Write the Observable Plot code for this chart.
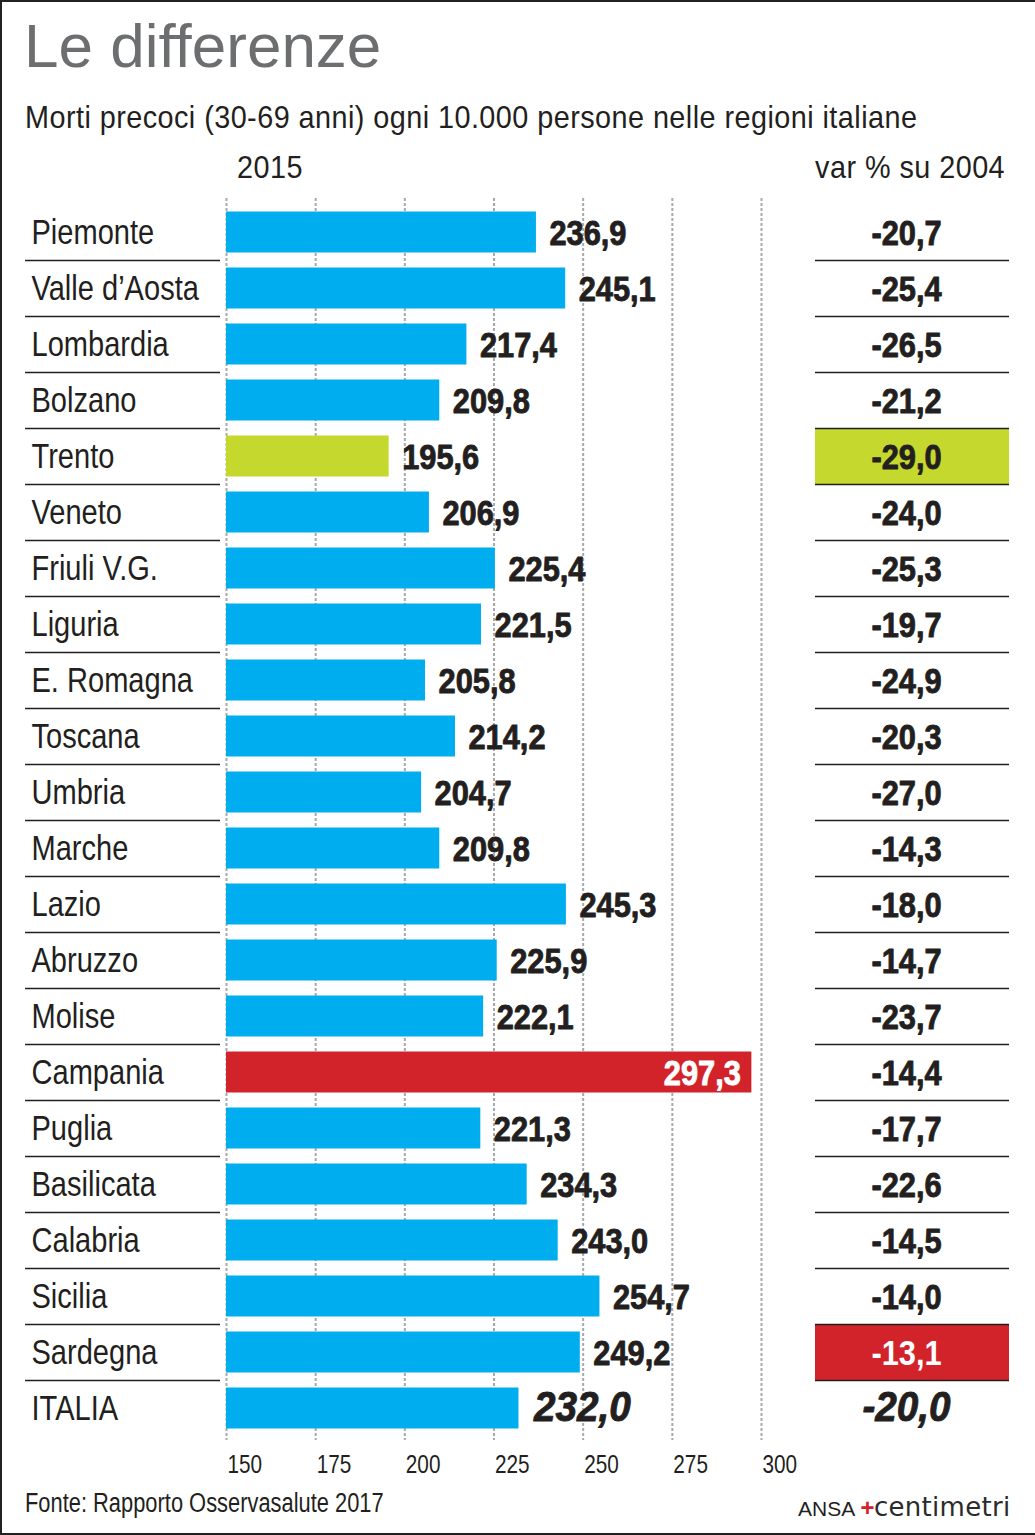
<!DOCTYPE html>
<html><head><meta charset="utf-8">
<script src="https://cdn.jsdelivr.net/npm/d3@7"></script>
<script src="https://cdn.jsdelivr.net/npm/@observablehq/plot@0.6"></script>
<style>
body{margin:0;background:#fff;}
#wrap{position:relative;width:1035px;height:1535px;background:#fff;overflow:hidden;}
.sans{font-family:"Liberation Sans",Arial,Helvetica,sans-serif;}
.abs{position:absolute;white-space:nowrap;line-height:1;}
.hdr{font-size:32px;letter-spacing:0.5px;color:#231f20;transform:scaleX(0.9);}
#frame{position:absolute;left:0;top:0;width:1035px;height:1535px;box-sizing:border-box;border-left:2px solid #222;border-top:2px solid #222;border-bottom:2px solid #222;pointer-events:none;}
#plotA{position:absolute;left:0;top:190px;}
#plotB{position:absolute;left:800px;top:190px;}
</style></head>
<body><div id="wrap">
<div class="abs sans" style="left:24px;top:15px;font-size:62px;color:#6d6e70;">Le differenze</div>
<div class="abs sans hdr" style="left:25px;top:100.9px;transform-origin:left center;">Morti precoci (30-69 anni) ogni 10.000 persone nelle regioni italiane</div>
<div class="abs sans hdr" style="left:237px;top:150.9px;transform-origin:left center;">2015</div>
<div class="abs sans hdr" style="right:29.5px;top:150.9px;transform-origin:right center;">var % su 2004</div>
<div id="plotA"></div>
<div id="plotB"></div>
<div class="abs sans" style="left:25px;top:1490px;font-size:27px;color:#231f20;transform:scaleX(0.81);transform-origin:left center;">Fonte: Rapporto Osservasalute 2017</div>
<div class="abs sans" style="left:798px;top:1494px;font-size:21px;color:#231f20;">ANSA <span style="color:#d2232a;font-weight:bold;font-style:italic;font-size:24px;">+</span><span style="font-family:'DejaVu Sans',sans-serif;font-size:26px;letter-spacing:0.3px;color:#2b2b2b;">centimetri</span></div>
<div id="frame"></div>
</div>
<script>
const regions = ["Piemonte","Valle d\u2019Aosta","Lombardia","Bolzano","Trento","Veneto","Friuli V.G.","Liguria","E. Romagna","Toscana","Umbria","Marche","Lazio","Abruzzo","Molise","Campania","Puglia","Basilicata","Calabria","Sicilia","Sardegna","ITALIA"];
const values2015 = [236.9,245.1,217.4,209.8,195.6,206.9,225.4,221.5,205.8,214.2,204.7,209.8,245.3,225.9,222.1,297.3,221.3,234.3,243.0,254.7,249.2,232.0];
const varPct = [-20.7,-25.4,-26.5,-21.2,-29.0,-24.0,-25.3,-19.7,-24.9,-20.3,-27.0,-14.3,-18.0,-14.7,-23.7,-14.4,-17.7,-22.6,-14.5,-14.0,-13.1,-20.0];
const tickValues = [150,175,200,225,250,275,300];
const totalLabel = "ITALIA";

const BLUE = "#00aeef", GREEN = "#c4d82e", RED = "#d2232a", INK = "#231f20";
const font = '"Liberation Sans",Arial,Helvetica,sans-serif';
const fmt = v => v.toFixed(1).replace(".", ",");

const rows = regions.map((r, i) => ({region: r, value: values2015[i], pct: varPct[i]}));
const regional = rows.filter(d => d.region !== totalLabel);
const vMin = d3.min(regional, d => d.value), vMax = d3.max(regional, d => d.value);
const pMin = d3.min(regional, d => d.pct), pMax = d3.max(regional, d => d.pct);
rows.forEach(d => {
  d.valCat = d.region === totalLabel ? "base" : d.value === vMin ? "low" : d.value === vMax ? "high" : "base";
  d.pctCat = d.region === totalLabel ? "base" : d.pct === pMin ? "low" : d.pct === pMax ? "high" : "base";
});
const total = rows.filter(d => d.region === totalLabel);
const regs = rows.filter(d => d.region !== totalLabel);
const color = {domain: ["base","low","high"], range: [BLUE, GREEN, RED]};
const xDomain = [tickValues[0], tickValues[tickValues.length - 1]];

// condense glyphs horizontally (no condensed font installed): scale each text about its anchor
function condense(svg) {
  svg.querySelectorAll("text").forEach(t => {
    const g = t.closest("g");
    const bold = g && g.getAttribute("font-weight") === "bold";
    const italic = g && g.getAttribute("font-style") === "italic";
    const s = italic ? 0.9 : bold ? 0.88 : 0.83;
    const tr = t.getAttribute("transform") || "";
    t.setAttribute("transform", tr + ` scale(${s},1)`);
  });
  return svg;
}

const heavy = (fill) => ({fontWeight: "bold", fill, stroke: fill, strokeWidth: 0.9});

const plotA = Plot.plot({
  width: 800, height: 1290,
  marginLeft: 226, marginRight: 39, marginTop: 13.5, marginBottom: 44.5,
  x: {domain: xDomain},
  y: {type: "band", domain: regions, padding: 0, axis: null},
  color,
  style: {fontFamily: font, color: INK, background: "transparent", overflow: "visible"},
  marks: [
    Plot.ruleX(tickValues, {x: d => d, stroke: "#a7a9ac", strokeWidth: 2, strokeDasharray: "3,2", insetTop: -5.5, insetBottom: -4.5}),
    Plot.axisX({ticks: tickValues, tickSize: 0, tickPadding: 19, textAnchor: "start", dx: 1, fontSize: 25, tickFormat: d => String(d), label: null, fill: INK}),
    Plot.ruleY(regions.slice(0, -1), {y: d => d, dy: 28, stroke: INK, strokeWidth: 1.5, insetLeft: -201, insetRight: 541}),
    Plot.barX(rows, {y: "region", x1: xDomain[0], x2: "value", fill: "valCat", insetTop: 7.5, insetBottom: 7.5}),
    Plot.text(rows, {y: "region", text: "region", frameAnchor: "left", textAnchor: "start", dx: -195, fontSize: 35, fill: INK}),
    Plot.text(regs.filter(d => d.valCat !== "high"), {x: "value", y: "region", text: d => fmt(d.value), textAnchor: "start", dx: 13, dy: 1, fontSize: 35, ...heavy(INK)}),
    Plot.text(regs.filter(d => d.valCat === "high"), {x: "value", y: "region", text: d => fmt(d.value), textAnchor: "end", dx: -11, dy: 1, fontSize: 35, ...heavy("white")}),
    Plot.text(total, {x: "value", y: "region", text: d => fmt(d.value), textAnchor: "start", dx: 15, dy: -1, fontSize: 43, fontStyle: "italic", ...heavy(INK)})
  ]
});
document.getElementById("plotA").appendChild(condense(plotA));

const plotB = Plot.plot({
  width: 235, height: 1290,
  marginLeft: 15, marginRight: 26, marginTop: 13.5, marginBottom: 44.5,
  y: {type: "band", domain: regions, padding: 0, axis: null},
  color,
  style: {fontFamily: font, color: INK, background: "transparent", overflow: "visible"},
  marks: [
    Plot.cell(rows.filter(d => d.pctCat !== "base"), {y: "region", fill: "pctCat"}),
    Plot.ruleY(regions.slice(0, -1), {y: d => d, dy: 28, stroke: INK, strokeWidth: 1.5}),
    Plot.text(regs.filter(d => d.pctCat !== "high"), {y: "region", frameAnchor: "middle", text: d => fmt(d.pct), dx: -6, dy: 1, fontSize: 35, ...heavy(INK)}),
    Plot.text(regs.filter(d => d.pctCat === "high"), {y: "region", frameAnchor: "middle", text: d => fmt(d.pct), dx: -6, dy: 1, fontSize: 35, fontWeight: "bold", fill: "white"}),
    Plot.text(total, {y: "region", frameAnchor: "middle", text: d => fmt(d.pct), dx: -6, dy: -1, fontSize: 43, fontStyle: "italic", ...heavy(INK)})
  ]
});
document.getElementById("plotB").appendChild(condense(plotB));
</script>
</body></html>
